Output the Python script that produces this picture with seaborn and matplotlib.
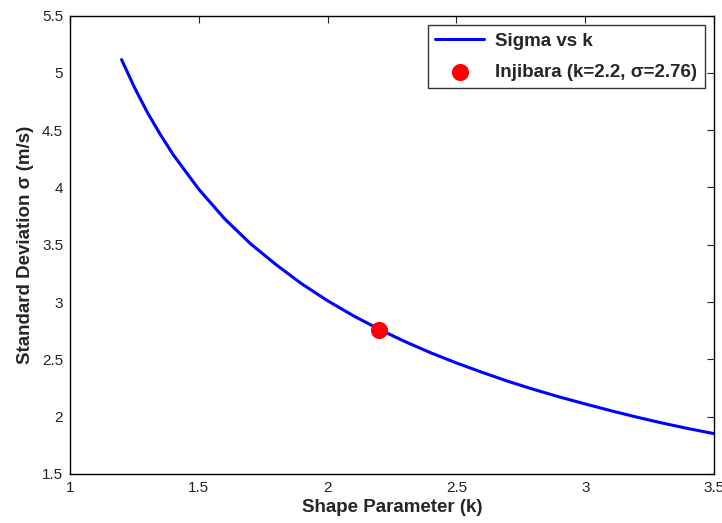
import matplotlib
matplotlib.use("Agg")
import matplotlib.pyplot as plt
import seaborn as sns
import pandas as pd

# values
k_vals = [1.2, 1.25, 1.3, 1.35, 1.4, 1.5, 1.6, 1.7, 1.8, 1.9, 2.0, 2.1, 2.2, 2.3,
          2.4, 2.5, 2.6, 2.7, 2.8, 2.9, 3.0, 3.1, 3.2, 3.3, 3.4, 3.5]
sigma_vals = [5.117, 4.874, 4.656, 4.464, 4.288, 3.984, 3.727, 3.510, 3.326, 3.158,
              3.011, 2.880, 2.762, 2.655, 2.557, 2.468, 2.386, 2.308, 2.237, 2.171,
              2.110, 2.051, 1.995, 1.943, 1.895, 1.851]
site_k = [2.2]
site_sigma = [2.76]
line_label = "Sigma vs k"
site_label = "Injibara (k=2.2, σ=2.76)"

xticks = [1, 1.5, 2, 2.5, 3, 3.5]
yticks = [1.5, 2, 2.5, 3, 3.5, 4, 4.5, 5, 5.5]

df = pd.DataFrame({"k": k_vals, "sigma": sigma_vals})

sns.set_style("white")
plt.rcParams["font.family"] = ["Liberation Sans", "DejaVu Sans"]

fig = plt.figure(figsize=(7.22, 5.23), dpi=100)
ax = fig.add_axes([0.097, 0.094, 0.892, 0.876])

sns.lineplot(data=df, x="k", y="sigma", color="blue", linewidth=2.2,
             label=line_label, ax=ax)
sns.scatterplot(x=site_k, y=site_sigma, color="red", s=130, edgecolor="red",
                label=site_label, ax=ax, zorder=5)

ax.set_xlim(1, 3.5)
ax.set_ylim(1.5, 5.5)
ax.set_xticks(xticks)
ax.set_xticklabels([f"{t:g}" for t in xticks])
ax.set_yticks(yticks)
ax.set_yticklabels([f"{t:g}" for t in yticks])
ax.tick_params(direction="in", length=5, width=0.8, top=True, right=True,
               labelsize=11, colors="#222222", pad=5)
for sp in ax.spines.values():
    sp.set_color("black")
    sp.set_linewidth(1.0)

ax.set_xlabel("Shape Parameter (k)", fontsize=13.5, fontweight="bold", labelpad=3)
ax.set_ylabel("Standard Deviation σ (m/s)", fontsize=13.5, fontweight="bold", labelpad=6)

leg = ax.legend(loc="upper right", fancybox=False, framealpha=1, edgecolor="#333333",
                fontsize=13.5, borderaxespad=0.5, handlelength=2.6,
                handletextpad=0.6, labelspacing=0.75, borderpad=0.4)
for t in leg.get_texts():
    t.set_fontweight("bold")
leg.get_frame().set_linewidth(1.0)

fig.savefig("out.png", dpi=100)
